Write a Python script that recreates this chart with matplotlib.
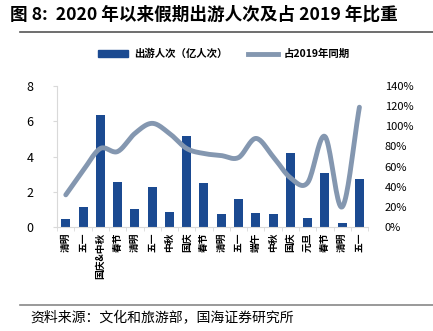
import matplotlib.pyplot as plt
import numpy as np
from matplotlib.lines import Line2D
from matplotlib.patches import Patch

plt.rcParams['font.family'] = ['Noto Sans CJK SC', 'DejaVu Sans']

holidays = ['清明', '五一', '国庆&中秋', '春节', '清明', '五一', '中秋', '国庆', '春节',
            '清明', '五一', '端午', '中秋', '国庆', '元旦', '春节', '清明', '五一']
trips = [0.45, 1.15, 6.37, 2.57, 1.02, 2.29, 0.88, 5.15, 2.51,
         0.75, 1.62, 0.81, 0.74, 4.22, 0.52, 3.08, 0.25, 2.74]
share_2019 = [32, 56, 78, 75, 93, 103, 93, 78, 73,
              71, 69, 88, 70, 49, 44, 90, 20, 119]

BAR = '#1B4A91'
LINE = '#8497B0'


def smooth(x, y, n=20):
    # catmull-rom style smoothing, like the smoothed line in excel
    x = np.asarray(x, float)
    y = np.asarray(y, float)
    px = np.concatenate([[2 * x[0] - x[1]], x, [2 * x[-1] - x[-2]]])
    py = np.concatenate([[2 * y[0] - y[1]], y, [2 * y[-1] - y[-2]]])
    xs, ys = [], []
    for i in range(1, len(px) - 2):
        t = np.linspace(0, 1, n, endpoint=False)
        for arr, out in ((px, xs), (py, ys)):
            p0, p1, p2, p3 = arr[i - 1], arr[i], arr[i + 1], arr[i + 2]
            out.extend(0.5 * (2 * p1 + (-p0 + p2) * t + (2 * p0 - 5 * p1 + 4 * p2 - p3) * t ** 2
                              + (-p0 + 3 * p1 - 3 * p2 + p3) * t ** 3))
    xs.append(x[-1])
    ys.append(y[-1])
    return np.array(xs), np.array(ys)


fig = plt.figure(figsize=(4.33, 3.31), dpi=100)
ax = fig.add_axes([0.132, 0.314, 0.718, 0.426])
x = np.arange(len(holidays))
ax.bar(x, trips, width=0.52, color=BAR, zorder=2)
ax.set_xlim(-0.5, len(holidays) - 0.5)
ax.set_ylim(0, 8)
ax.set_yticks([0, 2, 4, 6, 8])
ax.tick_params(axis='y', labelsize=9, length=3, color='#D9D9D9', pad=14)
ax.set_xticks(x)
ax.set_xticklabels(holidays, fontsize=7, fontweight='bold', rotation=90, va='top', ha='center')
ax.tick_params(axis='x', length=0, pad=4)
ax.set_xticks(np.arange(len(holidays) + 1) - 0.5, minor=True)
ax.tick_params(axis='x', which='minor', length=3, color='#D9D9D9')
for s in ['top', 'right']:
    ax.spines[s].set_visible(False)
ax.spines['left'].set_color('#D9D9D9')
ax.spines['bottom'].set_color('#D9D9D9')

ax2 = ax.twinx()
sx, sy = smooth(x, share_2019)
ax2.plot(sx, sy, color=LINE, lw=3.5, solid_capstyle='round', zorder=3)
ax2.set_ylim(0, 140)
ax2.set_yticks(range(0, 141, 20))
ax2.set_yticklabels([f'{v}%' for v in range(0, 141, 20)])
ax2.tick_params(axis='y', labelsize=8, length=0, pad=12)
for s in ax2.spines.values():
    s.set_visible(False)

handles = [Patch(color=BAR), Line2D([], [], color=LINE, lw=3.5)]
fig.legend(handles, ['出游人次（亿人次）', '占2019年同期'], loc='center', bbox_to_anchor=(0.517, 0.837),
           ncol=2, frameon=False, handlelength=2.9, handleheight=0.55, handletextpad=0.5,
           columnspacing=2.0, prop={'weight': 'bold', 'size': 7.5})

fig.text(0.022, 0.955, '图 8:  2020 年以来假期出游人次及占 2019 年比重', fontsize=12.7,
         fontweight='bold', va='center')
fig.add_artist(Line2D([0.046, 1.0], [0.903, 0.903], color='#555555', lw=1.2))
fig.add_artist(Line2D([0.046, 1.0], [0.079, 0.079], color='#888888', lw=1.2))
fig.text(0.069, 0.04, '资料来源：文化和旅游部，国海证券研究所', fontsize=10, va='center')

fig.savefig('out.png', dpi=100)
